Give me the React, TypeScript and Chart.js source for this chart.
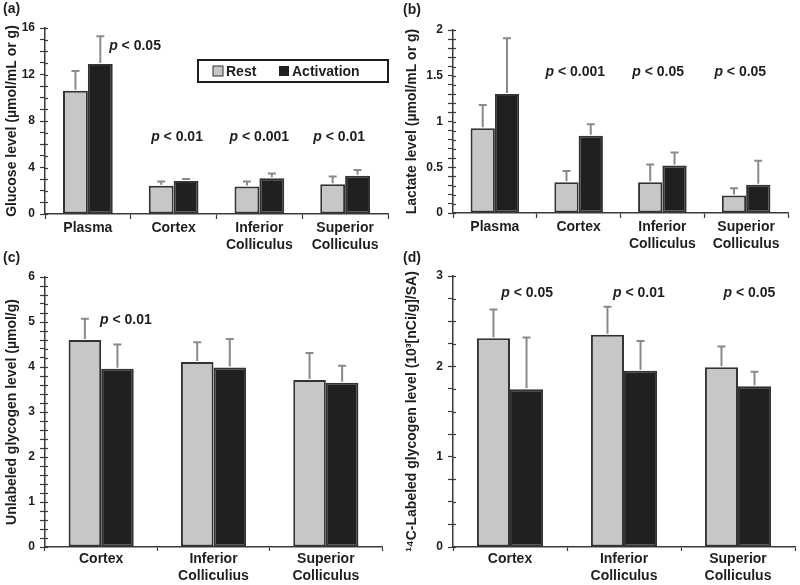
import React, { useEffect, useRef } from 'react';
import { Chart, registerables } from 'chart.js';

Chart.register(...registerables);

// ---------- DATA ----------
const seriesNames = ['Rest', 'Activation'];

const catsA = ['Plasma', 'Cortex', ['Inferior', 'Colliculus'], ['Superior', 'Colliculus']];
const restA = [10.6, 2.44, 2.36, 2.56];
const restErrA = [1.7, 0.35, 0.43, 0.66];
const actA = [12.9, 2.84, 3.07, 3.3];
const actErrA = [2.4, 0.18, 0.41, 0.49];
const pTextA = ['p < 0.05', 'p < 0.01', 'p < 0.001', 'p < 0.01'];
const pXA = [0.55, 1.04, 2.0, 2.93];
const pYA = [14.4, 6.6, 6.6, 6.6];

const catsB = ['Plasma', 'Cortex', ['Inferior', 'Colliculus'], ['Superior', 'Colliculus']];
const restB = [0.925, 0.336, 0.336, 0.19];
const restErrB = [0.255, 0.124, 0.194, 0.08];
const actB = [1.3, 0.845, 0.52, 0.31];
const actErrB = [0.61, 0.125, 0.14, 0.26];
const pTextB = ['p < 0.001', 'p < 0.05', 'p < 0.05'];
const pXB = [0.96, 1.95, 2.93];
const pYB = [1.54, 1.54, 1.54];

const catsC = ['Cortex', ['Inferior', 'Colliculius'], ['Superior', 'Colliculus']];
const restC = [4.6, 4.11, 3.71];
const restErrC = [0.47, 0.44, 0.6];
const actC = [3.96, 3.99, 3.65];
const actErrC = [0.54, 0.63, 0.38];
const pTextC = ['p < 0.01'];
const pXC = [0.22];
const pYC = [5.04];

const catsD = ['Cortex', ['Inferior', 'Colliculus'], ['Superior', 'Colliculus']];
const restD = [2.31, 2.35, 1.99];
const restErrD = [0.32, 0.31, 0.23];
const actD = [1.745, 1.95, 1.78];
const actErrD = [0.575, 0.33, 0.16];
const pTextD = ['p < 0.05', 'p < 0.01', 'p < 0.05'];
const pXD = [0.15, 1.13, 2.1];
const pYD = [2.81, 2.81, 2.81];

// ---------- STYLE ----------
const FONT = '"Liberation Sans", Arial, sans-serif';
const TEXT = '#1e1e1e';
const AXIS = '#3a3a3a';
const REST_FILL = '#c5c7c9';
const ACT_FILL = '#221f20';
const BAR_BORDER = '#333333';
const ERR_COLOR = '#8a8a8a';

type Spec = {
  label: string;
  left: number; top: number; w: number; h: number;
  yWidth: number; padRight: number; padTop: number; xHeight: number;
  tickLen: number; xPad: number;
  cats: any[];
  rest: number[]; restErr: number[]; act: number[]; actErr: number[];
  yMax: number; step: number; major: number; yTitle: string;
  pText: string[]; pX: number[]; pY: number[];
  legend: boolean;
  labelY: number;
};

function drawP(ctx: CanvasRenderingContext2D, text: string, cx: number, cy: number) {
  const first = text.slice(0, 1);
  const rest = text.slice(1);
  ctx.font = `italic bold 14px ${FONT}`;
  const w1 = ctx.measureText(first).width;
  ctx.font = `bold 14px ${FONT}`;
  const w2 = ctx.measureText(rest).width;
  const x0 = cx - (w1 + w2) / 2;
  ctx.textBaseline = 'middle';
  ctx.textAlign = 'left';
  ctx.fillStyle = TEXT;
  ctx.font = `italic bold 14px ${FONT}`;
  ctx.fillText(first, x0, cy);
  ctx.font = `bold 14px ${FONT}`;
  ctx.fillText(rest, x0 + w1, cy);
}

function buildConfig(s: Spec): any {
  const errs = [s.restErr, s.actErr];
  const plugin = {
    id: 'custom_' + s.label,
    afterDatasetsDraw(chart: any) {
      const ctx = chart.ctx;
      const yS = chart.scales.y;
      ctx.save();
      ctx.strokeStyle = ERR_COLOR;
      ctx.lineWidth = 2;
      chart.data.datasets.forEach((ds: any, di: number) => {
        const meta = chart.getDatasetMeta(di);
        meta.data.forEach((bar: any, i: number) => {
          const v = ds.data[i];
          const top = yS.getPixelForValue(v + errs[di][i]);
          const base = yS.getPixelForValue(v);
          ctx.beginPath();
          ctx.moveTo(bar.x, base - 1);
          ctx.lineTo(bar.x, top);
          ctx.moveTo(bar.x - 4, top);
          ctx.lineTo(bar.x + 4, top);
          ctx.stroke();
        });
      });
      ctx.restore();
    },
    afterDraw(chart: any) {
      const ctx = chart.ctx;
      const xS = chart.scales.x;
      const yS = chart.scales.y;
      ctx.save();
      // inward part of the y-axis tick marks
      ctx.strokeStyle = AXIS;
      ctx.lineWidth = 1.2;
      const ax = chart.chartArea.left;
      yS.ticks.forEach((t: any) => {
        const py = Math.round(yS.getPixelForValue(t.value)) + 0.5;
        ctx.beginPath();
        ctx.moveTo(ax, py);
        ctx.lineTo(ax + 3, py);
        ctx.stroke();
      });
      // panel label
      ctx.fillStyle = TEXT;
      ctx.font = `bold 14px ${FONT}`;
      ctx.textAlign = 'left';
      ctx.textBaseline = 'middle';
      ctx.fillText(s.label, 3, s.labelY);
      // p values
      s.pText.forEach((t, i) => {
        drawP(ctx, t, xS.getPixelForValue(s.pX[i]), yS.getPixelForValue(s.pY[i]));
      });
      // legend
      if (s.legend) {
        const ca = chart.chartArea;
        const bw = 190, bh = 22;
        const bx = ca.right - bw;
        const by = ca.top + 32;
        ctx.fillStyle = '#ffffff';
        ctx.fillRect(bx, by, bw, bh);
        ctx.strokeStyle = '#1e1e1e';
        ctx.lineWidth = 2;
        ctx.strokeRect(bx, by, bw, bh);
        const cy = by + bh / 2;
        ctx.fillStyle = REST_FILL;
        ctx.fillRect(bx + 15, cy - 5, 10, 10);
        ctx.strokeStyle = BAR_BORDER;
        ctx.lineWidth = 1;
        ctx.strokeRect(bx + 15, cy - 5, 10, 10);
        ctx.fillStyle = TEXT;
        ctx.font = `bold 14px ${FONT}`;
        ctx.textBaseline = 'middle';
        ctx.fillText(seriesNames[0], bx + 28, cy + 1);
        ctx.fillStyle = ACT_FILL;
        ctx.fillRect(bx + 81, cy - 5, 10, 10);
        ctx.fillStyle = TEXT;
        ctx.fillText(seriesNames[1], bx + 94, cy + 1);
      }
      ctx.restore();
    },
  };

  const isMajor = (v: number) => Math.abs(v / s.major - Math.round(v / s.major)) < 1e-6;

  return {
    type: 'bar',
    data: {
      labels: s.cats,
      datasets: [
        {
          label: seriesNames[0],
          data: s.rest,
          backgroundColor: REST_FILL,
          borderColor: BAR_BORDER,
          borderWidth: 2,
          borderSkipped: false,
          categoryPercentage: 0.58,
          barPercentage: 1,
        },
        {
          label: seriesNames[1],
          data: s.act,
          backgroundColor: ACT_FILL,
          borderColor: BAR_BORDER,
          borderWidth: 2,
          borderSkipped: false,
          categoryPercentage: 0.58,
          barPercentage: 1,
        },
      ],
    },
    options: {
      responsive: false,
      animation: false,
      devicePixelRatio: 1,
      layout: { padding: { left: 0, right: s.padRight, top: s.padTop, bottom: 0 } },
      plugins: { legend: { display: false }, tooltip: { enabled: false } },
      scales: {
        x: {
          afterFit: (sc: any) => { sc.height = s.xHeight; },
          ticks: {
            color: TEXT,
            font: { family: FONT, size: 14, weight: 'bold', lineHeight: 1.2 },
            padding: s.xPad,
            maxRotation: 0,
            autoSkip: false,
          },
          grid: { drawOnChartArea: false, offset: true, drawTicks: true, tickLength: s.tickLen, tickColor: AXIS, tickWidth: 1.2 },
          border: { color: AXIS, width: 1.5 },
        },
        y: {
          min: 0,
          max: s.yMax,
          afterFit: (sc: any) => { sc.width = s.yWidth; },
          ticks: {
            stepSize: s.step,
            autoSkip: false,
            maxTicksLimit: 200,
            padding: 5,
            color: TEXT,
            font: { family: FONT, size: 12, weight: 'bold' },
            callback: (v: any) => (isMajor(Number(v)) ? String(Math.round(Number(v) * 10) / 10) : ''),
          },
          grid: { drawOnChartArea: false, drawTicks: true, tickLength: 5, tickColor: AXIS, tickWidth: 1.2 },
          border: { color: AXIS, width: 1.5 },
          title: {
            display: true,
            text: s.yTitle,
            color: TEXT,
            font: { family: FONT, size: 14, weight: 'bold' },
            padding: { top: 4, bottom: 0 },
          },
        },
      },
    },
    plugins: [plugin],
  };
}

const specs: Spec[] = [
  {
    label: '(a)', left: 0, top: 0, w: 400, h: 255,
    yWidth: 45, padRight: 12, padTop: 28, xHeight: 41, tickLen: 5, xPad: 1,
    cats: catsA, rest: restA, restErr: restErrA, act: actA, actErr: actErrA,
    yMax: 16, step: 1, major: 4, yTitle: 'Glucose level (µmol/mL or g)',
    pText: pTextA, pX: pXA, pY: pYA, legend: true, labelY: 9,
  },
  {
    label: '(b)', left: 400, top: 0, w: 400, h: 255,
    yWidth: 53, padRight: 12, padTop: 30, xHeight: 42, tickLen: 5, xPad: 1,
    cats: catsB, rest: restB, restErr: restErrB, act: actB, actErr: actErrB,
    yMax: 2, step: 0.1, major: 0.5, yTitle: 'Lactate level (µmol/mL or g)',
    pText: pTextB, pX: pXB, pY: pYB, legend: false, labelY: 10,
  },
  {
    label: '(c)', left: 0, top: 245, w: 400, h: 340,
    yWidth: 45, padRight: 18, padTop: 32, xHeight: 38, tickLen: 4, xPad: 0,
    cats: catsC, rest: restC, restErr: restErrC, act: actC, actErr: actErrC,
    yMax: 6, step: 0.2, major: 1, yTitle: 'Unlabeled glycogen level (µmol/g)',
    pText: pTextC, pX: pXC, pY: pYC, legend: false, labelY: 13,
  },
  {
    label: '(d)', left: 400, top: 245, w: 400, h: 340,
    yWidth: 53, padRight: 5, padTop: 31, xHeight: 38, tickLen: 4, xPad: 0,
    cats: catsD, rest: restD, restErr: restErrD, act: actD, actErr: actErrD,
    yMax: 3, step: 0.25, major: 1, yTitle: '¹⁴C-Labeled glycogen level (10³[nCi/g]/SA)',
    pText: pTextD, pX: pXD, pY: pYD, legend: false, labelY: 13,
  },
];

function Panel({ spec }: { spec: Spec }) {
  const ref = useRef<HTMLCanvasElement>(null);
  useEffect(() => {
    if (!ref.current) return;
    const chart = new Chart(ref.current, buildConfig(spec));
    return () => chart.destroy();
  }, [spec]);
  return (
    <canvas
      ref={ref}
      width={spec.w}
      height={spec.h}
      style={{ position: 'absolute', left: spec.left, top: spec.top, width: spec.w, height: spec.h }}
    />
  );
}

export default function App() {
  return (
    <div style={{ position: 'absolute', left: 0, top: 0, width: 800, height: 585, background: '#ffffff', overflow: 'hidden' }}>
      {specs.map((s) => (
        <Panel key={s.label} spec={s} />
      ))}
    </div>
  );
}
